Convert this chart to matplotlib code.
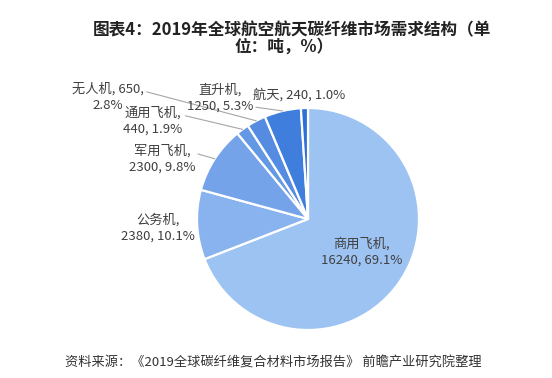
import numpy as np
import matplotlib.pyplot as plt

plt.rcParams['font.family'] = ['Noto Sans CJK SC', 'DejaVu Sans']

# data
names = ['商用飞机', '公务机', '军用飞机', '通用飞机', '无人机', '直升机', '航天']
values = [16240, 2380, 2300, 440, 650, 1250, 240]
title1 = '图表4：2019年全球航空航天碳纤维市场需求结构（单'
title2 = '位：吨，%）'
source = '资料来源：《2019全球碳纤维复合材料市场报告》 前瞻产业研究院整理'

colors = ['#9dc3f2', '#88b3ee', '#74a3e9', '#6398e4', '#558ce1', '#3f7edc', '#2e6fd6']
# label style: where to break the line, text centre in image pixels, leader or not
breaks = ['name', 'name', 'name', 'name', 'value', 'name', 'none']
text_pos = [(362, 252), (158, 228), (162, 159), (153, 121), (108, 97), (220, 98), (299, 95)]
leader = [False, False, True, True, True, True, False]
relpos = [None, None, (1, 0.7), (1, 0.7), (1, 0.7), (1, 0.2), None]

W, H = 552, 378
fig = plt.figure(figsize=(W / 100, H / 100), dpi=100)

cx, cy, r = 308, 219, 111
ax = fig.add_axes([(cx - r) / W, (H - cy - r) / H, 2 * r / W, 2 * r / H])
wedges, _ = ax.pie(values, colors=colors, startangle=90, counterclock=False,
                   wedgeprops=dict(edgecolor='white', linewidth=1.6))
ax.set_xlim(-1, 1)
ax.set_ylim(-1, 1)
ax.set_aspect('equal')

total = sum(values)
for i, w in enumerate(wedges):
    pct = values[i] / total * 100
    if breaks[i] == 'name':
        lab = f'{names[i]},\n{values[i]}, {pct:.1f}%'
    elif breaks[i] == 'value':
        lab = f'{names[i]}, {values[i]},\n{pct:.1f}%'
    else:
        lab = f'{names[i]}, {values[i]}, {pct:.1f}%'
    ang = np.deg2rad((w.theta1 + w.theta2) / 2)
    tx, ty = text_pos[i]
    if leader[i]:
        ax.annotate(lab, xy=(np.cos(ang), np.sin(ang)), xytext=(tx, H - ty),
                    textcoords='figure pixels', ha='center', va='center',
                    fontsize=9.5, color='#404040', linespacing=1.3,
                    arrowprops=dict(arrowstyle='-', color='#a6a6a6', lw=0.8,
                                    relpos=relpos[i], shrinkA=0, shrinkB=0))
    else:
        fig.text(tx / W, 1 - ty / H, lab, ha='center', va='center',
                 fontsize=9.5, color='#404040', linespacing=1.3)

fig.text(292 / W, 1 - 30 / H, title1, ha='center', va='center',
         fontsize=12, fontweight='bold', color='#222222')
fig.text(284 / W, 1 - 47 / H, title2, ha='center', va='center',
         fontsize=12, fontweight='bold', color='#222222')
fig.text(65 / W, 1 - 363 / H, source, ha='left', va='center',
         fontsize=9.5, color='#333333')

fig.savefig('out.png', dpi=100)
